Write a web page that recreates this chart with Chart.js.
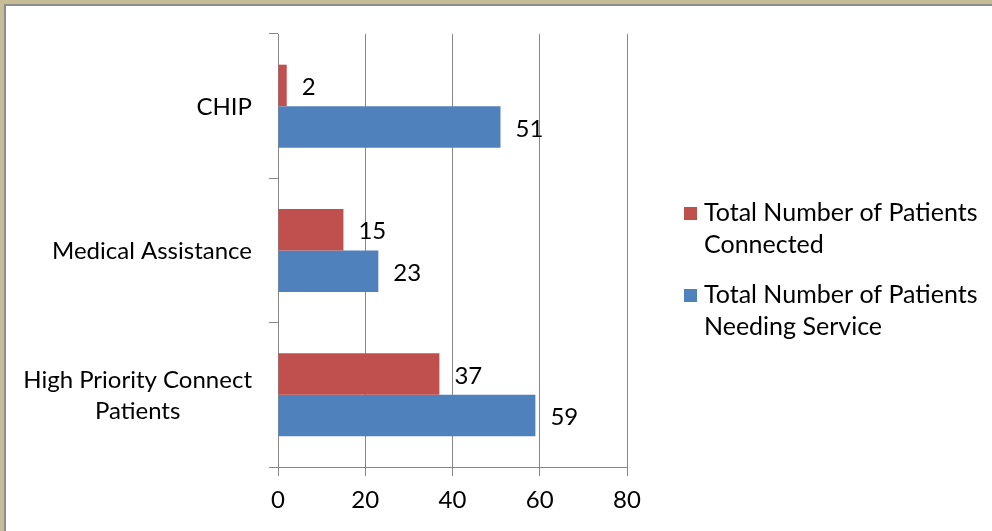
<!DOCTYPE html>
<html>
<head>
<meta charset="utf-8">
<script src="https://cdn.jsdelivr.net/npm/chart.js@4"></script>
<style>
  html, body { margin: 0; padding: 0; background: #fff; }
  #frame { width: 992px; height: 531px; box-sizing: border-box; border-top: 4px solid #c6bc96; border-left: 4px solid #c6bc96; }
  #inner { width: 988px; height: 527px; box-sizing: border-box; border-top: 2px solid #8d8d8d; border-left: 2px solid #8d8d8d; background: #fff; }
  #chart { display: block; }
</style>
</head>
<body>
<div id="frame"><div id="inner"><canvas id="chart" width="986" height="525"></canvas></div></div>
<script>
var categorias = ['CHIP', 'Medical Assistance', ['High Priority Connect', 'Patients']];
var conectados = [2, 15, 37];
var precisandoServico = [51, 23, 59];
var legendaConectados = ['Total Number of Patients', 'Connected'];
var legendaPrecisando = ['Total Number of Patients', 'Needing Service'];
var ticksX = [0, 20, 40, 60, 80];

var FONTE = 'Lato, "Open Sans", sans-serif';
var TAMANHO = 24;
var TAMANHO_LEGENDA = 25;
var CINZA = '#868686';

// rotulos das categorias, centralizados entre si e encostados no eixo
var rotulosY = {
	id: 'rotulosY',
	afterDraw: function(chart) {
		var ctx = chart.ctx;
		var eixo = chart.scales.y;
		ctx.save();
		ctx.font = TAMANHO + 'px ' + FONTE;
		ctx.fillStyle = '#000';
		ctx.textAlign = 'center';
		ctx.textBaseline = 'middle';
		categorias.forEach(function(cat, i) {
			var linhas = Array.isArray(cat) ? cat : [cat];
			var larg = 0;
			linhas.forEach(function(l) { larg = Math.max(larg, ctx.measureText(l).width); });
			var cx = chart.chartArea.left - 26 - larg / 2;
			var cy = eixo.getPixelForTick(i) + 1;
			var alt = 31;
			linhas.forEach(function(l, j) {
				ctx.fillText(l, cx, cy + (j - (linhas.length - 1) / 2) * alt);
			});
		});
		ctx.restore();
	}
};

// valores no fim das barras
var valores = {
	id: 'valores',
	afterDatasetsDraw: function(chart) {
		var ctx = chart.ctx;
		ctx.save();
		ctx.font = TAMANHO + 'px ' + FONTE;
		ctx.fillStyle = '#000';
		ctx.textAlign = 'left';
		ctx.textBaseline = 'middle';
		chart.data.datasets.forEach(function(ds, d) {
			chart.getDatasetMeta(d).data.forEach(function(bar, i) {
				ctx.fillText(ds.data[i], bar.x + 15, bar.y + 2);
			});
		});
		ctx.restore();
	}
};

// legenda com texto em duas linhas
var legenda = {
	id: 'legenda',
	afterDraw: function(chart) {
		var ctx = chart.ctx;
		var x = chart.chartArea.right + 57;
		var topos = [201, 283];
		ctx.save();
		ctx.font = TAMANHO_LEGENDA + 'px ' + FONTE;
		ctx.textAlign = 'left';
		ctx.textBaseline = 'middle';
		chart.data.datasets.forEach(function(ds, d) {
			var y = topos[d];
			ctx.fillStyle = ds.backgroundColor;
			ctx.fillRect(x, y, 13, 13);
			ctx.fillStyle = '#000';
			ds.linhasLegenda.forEach(function(l, j) {
				ctx.fillText(l, x + 20, y + 6 + j * 32);
			});
		});
		ctx.restore();
	}
};

new Chart(document.getElementById('chart').getContext('2d'), {
	type: 'bar',
	data: {
		labels: categorias,
		datasets: [{
			label: 'Total Number of Patients Connected',
			linhasLegenda: legendaConectados,
			backgroundColor: '#c0504d',
			data: conectados
		}, {
			label: 'Total Number of Patients Needing Service',
			linhasLegenda: legendaPrecisando,
			backgroundColor: '#4f81bd',
			data: precisandoServico
		}]
	},
	options: {
		indexAxis: 'y',
		responsive: false,
		animation: false,
		devicePixelRatio: 1,
		categoryPercentage: 0.575,
		barPercentage: 1.0,
		layout: { padding: { top: 28, right: 365, left: 0, bottom: 0 } },
		plugins: {
			legend: { display: false },
			tooltip: { enabled: false }
		},
		scales: {
			x: {
				min: 0,
				max: 80,
				afterBuildTicks: function(scale) {
					scale.ticks = ticksX.map(function(v) { return { value: v }; });
				},
				afterFit: function(scale) { scale.height = 64; },
				grid: { color: CINZA, lineWidth: 1, drawTicks: true, tickLength: 9, tickColor: CINZA },
				border: { color: CINZA, width: 1 },
				ticks: { color: '#000', padding: 10, font: { family: FONTE, size: TAMANHO } }
			},
			y: {
				afterFit: function(scale) { scale.width = 272; },
				grid: { drawOnChartArea: false, drawTicks: true, tickLength: 9, color: CINZA, tickColor: CINZA, offset: true },
				border: { color: CINZA, width: 1 },
				ticks: { display: false }
			}
		}
	},
	plugins: [rotulosY, valores, legenda]
});
</script>
</body>
</html>
